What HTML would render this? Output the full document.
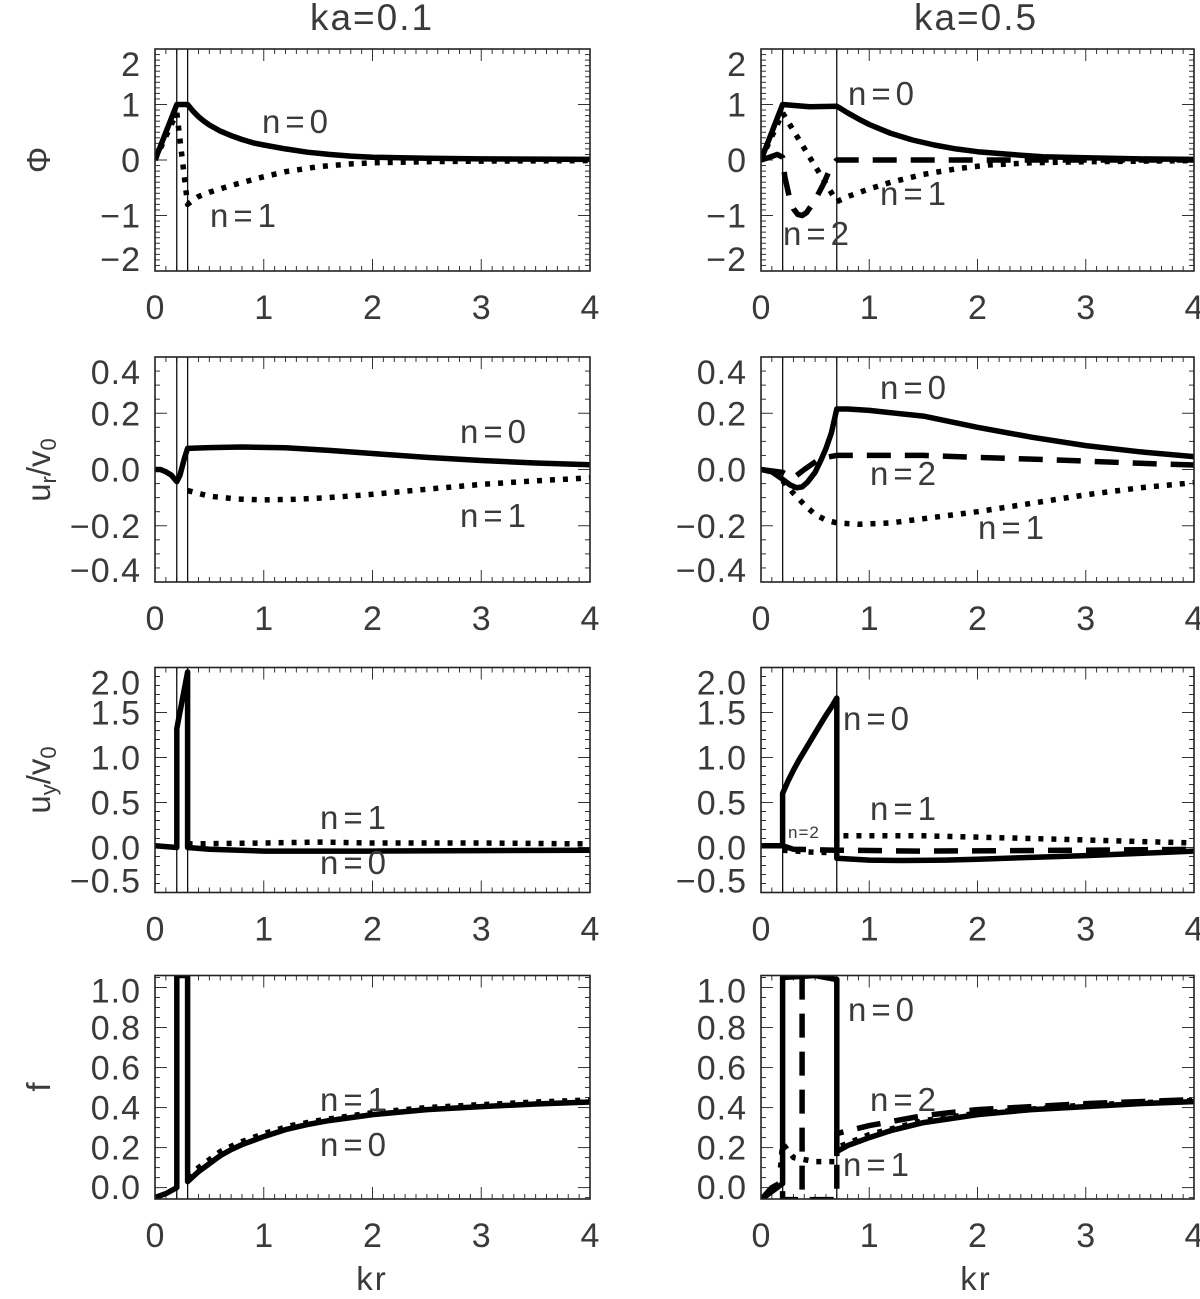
<!DOCTYPE html>
<html><head><meta charset="utf-8"><style>
html,body{margin:0;padding:0;background:#fff;}
svg text{font-family:"Liberation Sans",sans-serif;fill:#3a3a3a;}
</style></head><body>
<svg id="fig" width="1200" height="1294" viewBox="0 0 1200 1294" xmlns="http://www.w3.org/2000/svg"></svg>
<script>
// ---- data (kr, value) ----
const phiL_n0 = [[0,0],[0.2,1],[0.3,1],[0.35,0.88],[0.4,0.78],[0.45,0.7],[0.5,0.63],[0.6,0.52],[0.7,0.44],[0.8,0.37],[0.9,0.31],[1.0,0.27],[1.2,0.2],[1.4,0.14],[1.6,0.1],[1.8,0.07],[2,0.05],[2.5,0.03],[3,0.02],[4,0.01]];
const phiL_n1 = [[0,0],[0.2,0.85],[0.3,-0.8],[0.35,-0.72],[0.4,-0.66],[0.5,-0.58],[0.6,-0.52],[0.7,-0.46],[0.85,-0.38],[1.0,-0.3],[1.2,-0.21],[1.5,-0.12],[1.8,-0.07],[2,-0.05],[2.5,-0.03],[3,-0.02],[4,-0.01]];
const phiR_n0 = [[0,0],[0.2,1],[0.45,0.96],[0.7,0.97],[0.8,0.85],[0.9,0.74],[1.0,0.64],[1.2,0.48],[1.4,0.36],[1.6,0.27],[1.8,0.2],[2,0.15],[2.3,0.1],[2.6,0.06],[3,0.04],[3.5,0.02],[4,0.01]];
const phiR_n1 = [[0,0],[0.2,0.85],[0.45,0.05],[0.7,-0.75],[0.8,-0.66],[1.0,-0.52],[1.2,-0.4],[1.5,-0.26],[1.8,-0.16],[2.1,-0.09],[2.5,-0.05],[3,-0.03],[4,-0.01]];
const phiR_n2 = [[0,0],[0.08,0.05],[0.15,0.1],[0.2,0.05],[0.22,-0.3],[0.26,-0.65],[0.3,-0.88],[0.34,-0.98],[0.38,-1.0],[0.42,-0.95],[0.5,-0.72],[0.58,-0.42],[0.65,-0.1],[0.7,0.0],[4,0]];
const urL_n0 = [[0,0],[0.05,0],[0.1,-0.008],[0.15,-0.02],[0.2,-0.043],[0.23,-0.02],[0.27,0.04],[0.3,0.075],[0.5,0.078],[0.8,0.08],[1.2,0.077],[1.6,0.068],[2,0.057],[2.5,0.043],[3,0.032],[3.5,0.023],[4,0.017]];
const urL_n1 = [[0.3,-0.075],[0.5,-0.095],[0.75,-0.105],[1,-0.108],[1.3,-0.106],[1.6,-0.1],[2,-0.088],[2.5,-0.07],[3,-0.053],[3.5,-0.04],[4,-0.03]];
const urR_n0 = [[0,0],[0.1,-0.008],[0.2,-0.035],[0.27,-0.055],[0.33,-0.065],[0.38,-0.062],[0.43,-0.045],[0.5,-0.01],[0.55,0.03],[0.6,0.075],[0.65,0.13],[0.7,0.215],[0.8,0.215],[1.0,0.21],[1.25,0.2],[1.5,0.19],[1.75,0.17],[2,0.15],[2.5,0.115],[3,0.085],[3.5,0.063],[4,0.046]];
const urR_n2 = [[0,0],[0.2,-0.01],[0.3,-0.03],[0.4,0.0],[0.55,0.04],[0.7,0.05],[1,0.05],[1.5,0.05],[2,0.043],[2.5,0.037],[3,0.03],[3.5,0.022],[4,0.016]];
const urR_n1 = [[0.2,-0.04],[0.3,-0.085],[0.4,-0.125],[0.5,-0.16],[0.6,-0.18],[0.7,-0.19],[0.9,-0.195],[1.2,-0.19],[1.5,-0.175],[1.8,-0.16],[2,-0.15],[2.5,-0.12],[3,-0.09],[3.5,-0.065],[4,-0.047]];
const uyL_n0 = [[0,0.02],[0.2,0.0],[0.2,1.32],[0.3,1.95],[0.3,0.0],[0.5,-0.02],[1.0,-0.04],[2,-0.04],[3,-0.035],[4,-0.03]];
const uyL_n1 = [[0.3,0.04],[1.0,0.05],[1.5,0.06],[2,0.05],[3,0.05],[4,0.04]];
const uyR_n0 = [[0,0.02],[0.2,0.02],[0.2,0.6],[0.25,0.74],[0.3,0.86],[0.35,0.97],[0.4,1.07],[0.45,1.17],[0.5,1.27],[0.55,1.37],[0.6,1.47],[0.65,1.56],[0.7,1.66],[0.7,-0.12],[1.0,-0.14],[1.3,-0.145],[1.7,-0.14],[2,-0.13],[2.5,-0.11],[3,-0.09],[3.5,-0.065],[4,-0.04]];
const uyR_n1 = [[0.2,-0.03],[0.45,-0.05],[0.7,-0.06],[0.7,0.13],[1.5,0.13],[2.5,0.1],[4,0.05]];
const uyR_n2 = [[0.2,0.02],[0.3,-0.02],[0.7,-0.03],[1.5,-0.04],[3,-0.03],[4,-0.02]];
const fL_n0 = [[0,-0.05],[0.1,-0.03],[0.2,0.0],[0.2,1.06],[0.3,1.06],[0.3,0.03],[0.4,0.08],[0.5,0.12],[0.6,0.16],[0.7,0.19],[0.8,0.215],[1.0,0.255],[1.2,0.29],[1.4,0.315],[1.6,0.335],[1.8,0.35],[2,0.365],[2.5,0.39],[3,0.405],[3.5,0.418],[4,0.428]];
const fL_n1 = [[0.3,0.05],[0.4,0.1],[0.5,0.14],[0.6,0.18],[0.75,0.22],[1.0,0.27],[1.25,0.31],[1.5,0.335],[2,0.375],[2.5,0.4],[3,0.415],[3.5,0.428],[4,0.438]];
const fR_n0 = [[0,-0.06],[0.2,0.02],[0.2,1.05],[0.5,1.06],[0.7,1.04],[0.7,0.18],[0.8,0.21],[1,0.25],[1.2,0.285],[1.5,0.325],[2,0.365],[2.5,0.39],[3,0.405],[3.5,0.42],[4,0.43]];
const fR_n2a = [[0,-0.06],[0.1,0.0],[0.2,0.03],[0.2,-0.06],[0.38,-0.06],[0.38,1.05]];
const fR_n2b = [[0.45,-0.06],[0.7,-0.06],[0.7,0.27],[1.0,0.31],[1.5,0.36],[2,0.39],[3,0.42],[4,0.44]];
const fR_n1 = [[0.18,0.1],[0.2,0.22],[0.3,0.15],[0.5,0.13],[0.7,0.13],[0.7,0.2],[1.0,0.265],[1.5,0.335],[2,0.372],[3,0.413],[4,0.435]];
const xTicks = [0,1,2,3,4];
const phiTicks = ["2","1","0","−1","−2"], phiVals=[2,1,0,-1,-2];
const urTicks = ["0.4","0.2","0.0","−0.2","−0.4"], urVals=[0.4,0.2,0,-0.2,-0.4];
const uyTicks = ["2.0","1.5","1.0","0.5","0.0","−0.5"], uyVals=[2,1.5,1,0.5,0,-0.5];
const fTicks = ["1.0","0.8","0.6","0.4","0.2","0.0"], fVals=[1,0.8,0.6,0.4,0.2,0];

const NS="http://www.w3.org/2000/svg";
const svg=document.getElementById('fig');
function mk(tag,attrs,parent){const e=document.createElementNS(NS,tag);for(const k in attrs)e.setAttribute(k,attrs[k]);(parent||svg).appendChild(e);return e;}

function panel(name,x0,x1,y0,y1,ymin,ymax,tickVals,tickLabels,minorStep,bounds,series,labels){
  const g=mk('g',{});
  
  
  const sx=v=>x0+(v/4)*(x1-x0);
  const sy=v=>y1-(v-ymin)/(ymax-ymin)*(y1-y0);
  const cp='cp-'+name;
  const cl=mk('clipPath',{id:cp},g);mk('rect',{x:x0,y:y0,width:x1-x0,height:y1-y0},cl);
  for(let i=0;i<=40;i++){const xv=sx(i*0.1);const L=(i%10===0)?12:5;
    mk('line',{x1:xv,x2:xv,y1:y1,y2:y1-L,stroke:'#333','stroke-width':1},g);
    mk('line',{x1:xv,x2:xv,y1:y0,y2:y0+L,stroke:'#333','stroke-width':1},g);}
  const n=Math.round((ymax-ymin)/minorStep);
  for(let i=0;i<=n+1;i++){const v=Math.ceil(ymin/minorStep-1e-9)*minorStep+i*minorStep; if(v<ymin-1e-9||v>ymax+1e-9)continue;
    const yv=sy(v);const major=tickVals.some(t=>Math.abs(t-v)<1e-6);const L=major?12:5;
    mk('line',{x1:x0,x2:x0+L,y1:yv,y2:yv,stroke:'#333','stroke-width':1},g);
    mk('line',{x1:x1,x2:x1-L,y1:yv,y2:yv,stroke:'#333','stroke-width':1},g);}
  tickVals.forEach((v,i)=>{let yv=sy(v);yv=Math.max(y0+15,Math.min(y1-12,yv));
    const t=mk('text',{x:x0-14,y:yv+12,'text-anchor':'end','font-size':34,'letter-spacing':1},g);t.textContent=tickLabels[i];
    
    });
  xTicks.forEach(v=>{const t=mk('text',{x:sx(v),y:y1+48,'text-anchor':'middle','font-size':34},g);t.textContent=String(v);
    
    });
  bounds.forEach(b=>{const l=mk('line',{x1:sx(b),x2:sx(b),y1:y0,y2:y1,stroke:'#111','stroke-width':1.3},g);
    
    });
  const cg=mk('g',{'clip-path':'url(#'+cp+')'},g);
  series.forEach(s=>{const d=s.data.map((p,i)=>(i?'L':'M')+sx(p[0]).toFixed(1)+','+sy(p[1]).toFixed(1)).join(' ');
    const at={d:d,fill:'none',stroke:'#000','stroke-width':5.5,'stroke-linejoin':'round'};
    if(s.style==='dot'){at['stroke-dasharray']='5 8';}
    if(s.style==='dash'){at['stroke-dasharray']='24 14';}
    const p=mk('path',at,cg);
    
    });
  mk('rect',{x:x0,y:y0,width:x1-x0,height:y1-y0,fill:'none',stroke:'#222','stroke-width':1.6},g);
  labels.forEach(l=>{const fs=l[3]||33;const t=mk('text',{x:l[1],y:l[2],'font-size':fs,'letter-spacing':fs>20?5:1},g);t.textContent=l[0];
    
    });
}
const LX0=155,LX1=590,RX0=761,RX1=1194;
panel('phi-ka01',LX0,LX1,49,271,-2,2,phiVals,phiTicks,0.1,[0.2,0.3],
 [{name:'phi-n0',data:phiL_n0,style:'solid'},{name:'phi-n1',data:phiL_n1,style:'dot'}],
 [['n=0',262,133],['n=1',210,227]]);
panel('phi-ka05',RX0,RX1,49,271,-2,2,phiVals,phiTicks,0.1,[0.2,0.7],
 [{name:'phi-n0',data:phiR_n0,style:'solid'},{name:'phi-n1',data:phiR_n1,style:'dot'},{name:'phi-n2',data:phiR_n2,style:'dash'}],
 [['n=0',848,105],['n=1',880,205],['n=2',783,245]]);
panel('ur-ka01',LX0,LX1,357,582,-0.4,0.4,urVals,urTicks,0.05,[0.2,0.3],
 [{name:'ur-n0',data:urL_n0,style:'solid'},{name:'ur-n1',data:urL_n1,style:'dot'}],
 [['n=0',460,443],['n=1',460,527]]);
panel('ur-ka05',RX0,RX1,357,582,-0.4,0.4,urVals,urTicks,0.05,[0.2,0.7],
 [{name:'ur-n0',data:urR_n0,style:'solid'},{name:'ur-n2',data:urR_n2,style:'dash'},{name:'ur-n1',data:urR_n1,style:'dot'}],
 [['n=0',880,399],['n=2',870,485],['n=1',978,539]]);
panel('uy-ka01',LX0,LX1,667.5,892.5,-0.5,2.0,uyVals,uyTicks,0.1,[0.2,0.3],
 [{name:'uy-n0',data:uyL_n0,style:'solid'},{name:'uy-n1',data:uyL_n1,style:'dot'}],
 [['n=1',320,829],['n=0',320,874]]);
panel('uy-ka05',RX0,RX1,667.5,892.5,-0.5,2.0,uyVals,uyTicks,0.1,[0.2,0.7],
 [{name:'uy-n0',data:uyR_n0,style:'solid'},{name:'uy-n1',data:uyR_n1,style:'dot'},{name:'uy-n2',data:uyR_n2,style:'dash'}],
 [['n=0',843,730],['n=1',870,820],['n=2',788,838,17]]);
panel('f-ka01',LX0,LX1,975.5,1199,-0.057,1.06,fVals,fTicks,0.05,[0.2,0.3],
 [{name:'f-n0',data:fL_n0,style:'solid'},{name:'f-n1',data:fL_n1,style:'dot'}],
 [['n=1',320,1111],['n=0',320,1156]]);
panel('f-ka05',RX0,RX1,975.5,1199,-0.057,1.06,fVals,fTicks,0.05,[0.2,0.7],
 [{name:'f-n0',data:fR_n0,style:'solid'},{name:'f-n2',data:fR_n2a,style:'dash'},{name:'f-n2-outer',data:fR_n2b,style:'dash'},{name:'f-n1',data:fR_n1,style:'dot'}],
 [['n=0',848,1021],['n=2',870,1111],['n=1',843,1176]]);
[['ka=0.1',372,30,'title-ka01'],['ka=0.5',976,30,'title-ka05'],['kr',372,1290,'x-axis-title-left'],['kr',976,1290,'x-axis-title-right']].forEach(a=>{
  const t=mk('text',{x:a[1],y:a[2],'text-anchor':'middle','font-size':a[0]==='kr'?33:37,'letter-spacing':2});t.textContent=a[0];
  
  });
function ytitle(html,y,name){const t=mk('text',{x:0,y:0,'text-anchor':'middle','font-size':33,transform:'translate(50,'+y+') rotate(-90)'});t.innerHTML=html;
  
  }
ytitle('Φ',160,'y-axis-title-phi');
ytitle('u<tspan font-size="22" dy="6">r</tspan><tspan dy="-6">/v</tspan><tspan font-size="22" dy="6">0</tspan>',470,'y-axis-title-ur');
ytitle('u<tspan font-size="22" dy="6">y</tspan><tspan dy="-6">/v</tspan><tspan font-size="22" dy="6">0</tspan>',780,'y-axis-title-uy');
ytitle('f',1087,'y-axis-title-f');
</script>
</body></html>
